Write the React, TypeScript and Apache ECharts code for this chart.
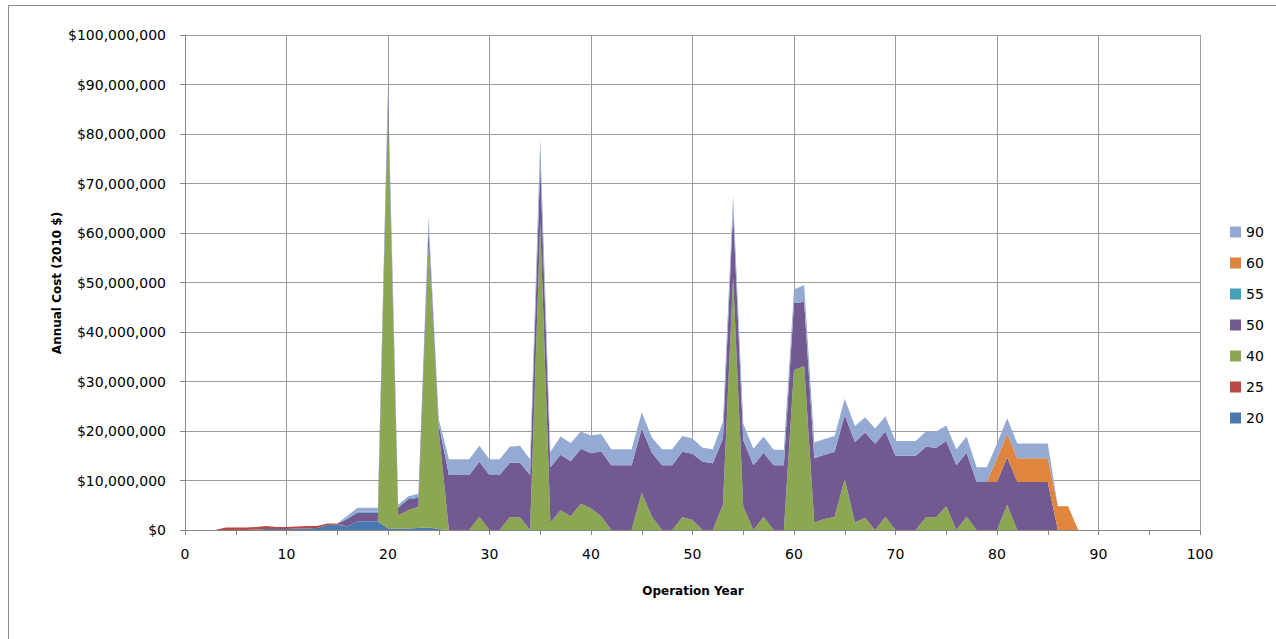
import React, { useEffect, useRef } from "react";
import * as echarts from "echarts";

// Operation years 0..100 (category axis)
const YEARS: string[] = Array.from({ length: 101 }, (_, i) => String(i));

// Annual cost per series, in millions of 2010 dollars, year 0..100
const S20 = [
  0, 0, 0, 0, 0, 0, 0, 0.1, 0.2, 0.2,
  0.2, 0.3, 0.3, 0.4, 1.0, 1.1, 0.7, 1.7, 1.7, 1.7,
  0.3, 0.3, 0.3, 0.4, 0.5, 0.2, 0, 0, 0, 0,
  0, 0, 0, 0, 0, 0, 0, 0, 0, 0,
  0, 0, 0, 0, 0, 0, 0, 0, 0, 0,
  0, 0, 0, 0, 0, 0, 0, 0, 0, 0,
  0, 0, 0, 0, 0, 0, 0, 0, 0, 0,
  0, 0, 0, 0, 0, 0, 0, 0, 0, 0,
  0, 0, 0, 0, 0, 0, 0, 0, 0, 0,
  0, 0, 0, 0, 0, 0, 0, 0, 0, 0,
  0,
];
const S25 = [
  0, 0, 0, 0, 0.5, 0.5, 0.5, 0.5, 0.6, 0.4,
  0.4, 0.4, 0.5, 0.4, 0.3, 0.2, 0, 0, 0, 0,
  0, 0, 0, 0, 0, 0, 0, 0, 0, 0,
  0, 0, 0, 0, 0, 0, 0, 0, 0, 0,
  0, 0, 0, 0, 0, 0, 0, 0, 0, 0,
  0, 0, 0, 0, 0, 0, 0, 0, 0, 0,
  0, 0, 0, 0, 0, 0, 0, 0, 0, 0,
  0, 0, 0, 0, 0, 0, 0, 0, 0, 0,
  0, 0, 0, 0, 0, 0, 0, 0, 0, 0,
  0, 0, 0, 0, 0, 0, 0, 0, 0, 0,
  0,
];
const S40 = [
  0, 0, 0, 0, 0, 0, 0, 0, 0, 0,
  0, 0, 0, 0, 0, 0, 0, 0, 0, 0,
  84, 2.7, 3.7, 4.3, 57, 19.8, 0, 0, 0, 2.7,
  0, 0, 2.6, 2.6, 0, 62, 1.5, 4.0, 2.8, 5.3,
  4.4, 2.8, 0, 0, 0, 7.5, 2.7, 0, 0, 2.6,
  2.0, 0, 0, 5.1, 51, 4.8, 0, 2.7, 0, 0,
  32.3, 33.1, 1.5, 2.2, 2.7, 10.3, 1.5, 2.5, 0, 2.7,
  0, 0, 0, 2.6, 2.6, 4.8, 0, 2.7, 0, 0,
  0, 5.1, 0, 0, 0, 0, 0, 0, 0, 0,
  0, 0, 0, 0, 0, 0, 0, 0, 0, 0,
  0,
];
const S50 = [
  0, 0, 0, 0, 0, 0, 0, 0, 0, 0,
  0, 0, 0, 0, 0, 0, 1.5, 1.8, 1.8, 1.8,
  3.0, 1.5, 2.2, 1.8, 3.0, 1.3, 11.1, 11.1, 11.1, 11.1,
  11.1, 11.1, 11.0, 11.0, 11.1, 12.0, 11.2, 11.2, 11.1, 11.1,
  11.1, 13.1, 13.1, 13.1, 13.1, 13.0, 12.9, 13.1, 13.1, 13.2,
  13.4, 13.8, 13.5, 13.4, 13.5, 13.4, 13.1, 12.9, 13.1, 13.1,
  13.5, 13.0, 13.0, 13.0, 13.1, 12.9, 16.3, 17.2, 17.4, 17.2,
  15.0, 15.0, 15.0, 14.2, 14.0, 13.2, 13.1, 12.9, 9.7, 9.7,
  9.7, 9.6, 9.7, 9.7, 9.7, 9.7, 0, 0, 0, 0,
  0, 0, 0, 0, 0, 0, 0, 0, 0, 0,
  0,
];
const S55 = [
  0, 0, 0, 0, 0, 0, 0, 0, 0, 0,
  0, 0, 0, 0, 0, 0, 0.2, 0.2, 0.2, 0.2,
  0.2, 0.2, 0.2, 0.2, 0.2, 0.1, 0, 0, 0, 0,
  0, 0, 0, 0, 0, 0, 0, 0, 0, 0,
  0, 0, 0, 0, 0, 0, 0, 0, 0, 0,
  0, 0, 0, 0, 0, 0, 0, 0, 0, 0,
  0, 0, 0, 0, 0, 0, 0, 0, 0, 0,
  0, 0, 0, 0, 0, 0, 0, 0, 0, 0,
  0, 0, 0, 0, 0, 0, 0, 0, 0, 0,
  0, 0, 0, 0, 0, 0, 0, 0, 0, 0,
  0,
];
const S60 = [
  0, 0, 0, 0, 0, 0, 0, 0, 0, 0,
  0, 0, 0, 0, 0, 0, 0, 0, 0, 0,
  0, 0, 0, 0, 0, 0, 0, 0, 0, 0,
  0, 0, 0, 0, 0, 0, 0, 0, 0, 0,
  0, 0, 0, 0, 0, 0, 0, 0, 0, 0,
  0, 0, 0, 0, 0, 0, 0, 0, 0, 0,
  0, 0, 0, 0, 0, 0, 0, 0, 0, 0,
  0, 0, 0, 0, 0, 0, 0, 0, 0, 0,
  4.7, 4.8, 4.8, 4.8, 4.8, 4.8, 4.8, 4.8, 0, 0,
  0, 0, 0, 0, 0, 0, 0, 0, 0, 0,
  0,
];
const S90 = [
  0, 0, 0, 0, 0, 0, 0, 0, 0, 0,
  0, 0, 0, 0, 0, 0, 0.5, 0.8, 0.8, 0.8,
  2.5, 0.4, 0.4, 0.6, 2.5, 1.0, 3.2, 3.2, 3.2, 3.2,
  3.2, 3.2, 3.2, 3.4, 3.2, 5.0, 3.1, 3.7, 3.7, 3.5,
  3.6, 3.5, 3.2, 3.2, 3.2, 3.3, 3.1, 3.2, 3.2, 3.2,
  3.1, 2.8, 2.8, 3.4, 3.0, 3.3, 3.3, 3.3, 3.1, 3.1,
  2.8, 3.4, 3.2, 3.2, 3.2, 3.3, 3.2, 3.1, 3.1, 3.1,
  3.0, 3.0, 3.0, 3.1, 3.3, 3.1, 3.2, 3.3, 3.0, 3.0,
  3.0, 3.1, 3.0, 3.0, 3.0, 3.0, 0, 0, 0, 0,
  0, 0, 0, 0, 0, 0, 0, 0, 0, 0,
  0,
];

// Stack order bottom -> top
const SERIES_NAMES = ["20", "25", "40", "50", "55", "60", "90"];
const SERIES_VALUES = [S20, S25, S40, S50, S55, S60, S90];
const SERIES_COLORS = ["#4A78B0", "#BA4844", "#8CA751", "#725A91", "#45A0B9", "#E0853D", "#95AAD2"];

const FONT = "DejaVu Sans";

export default function App() {
  const ref = useRef<HTMLDivElement>(null);

  useEffect(() => {
    if (!ref.current) return;
    const chart = echarts.init(ref.current, undefined, { renderer: "svg" });

    const series = SERIES_NAMES.map((name, i) => ({
      name,
      type: "line",
      stack: "total",
      data: SERIES_VALUES[i].map((v) => v * 1e6),
      symbol: "none",
      showSymbol: false,
      lineStyle: { width: 0, color: SERIES_COLORS[i] },
      itemStyle: { color: SERIES_COLORS[i] },
      areaStyle: { color: SERIES_COLORS[i], opacity: 1 },
      emphasis: { disabled: true },
    }));

    const axisGray = "#868686";
    const gridGray = "#9C9C9C";

    chart.setOption({
      animation: false,
      textStyle: { fontFamily: FONT },
      grid: { left: 185, right: 76, top: 35, bottom: 109, containLabel: false },
      legend: {
        orient: "vertical",
        left: 1230,
        top: 225,
        padding: 0,
        itemWidth: 11,
        itemHeight: 11,
        itemGap: 17,
        icon: "rect",
        selectedMode: false,
        data: [...SERIES_NAMES].reverse(),
        textStyle: { fontSize: 14, color: "#000", fontFamily: FONT },
      },
      xAxis: {
        type: "category",
        data: YEARS,
        boundaryGap: false,
        axisLine: { show: true, lineStyle: { color: axisGray, width: 1 } },
        axisTick: { show: true, interval: 4, length: 5, lineStyle: { color: axisGray } },
        axisLabel: { interval: 9, margin: 17, fontSize: 14, color: "#000", fontFamily: FONT },
        splitLine: { show: true, interval: 9, lineStyle: { color: gridGray, width: 1 } },
      },
      yAxis: {
        type: "value",
        min: 0,
        max: 1e8,
        interval: 1e7,
        axisLine: { show: true, lineStyle: { color: axisGray, width: 1 } },
        axisTick: { show: true, length: 5, lineStyle: { color: axisGray } },
        axisLabel: {
          margin: 19,
          fontSize: 14,
          color: "#000",
          fontFamily: FONT,
          formatter: (v: number) => "$" + Math.round(v).toLocaleString("en-US"),
        },
        splitLine: { show: true, lineStyle: { color: gridGray, width: 1 } },
      },
      graphic: [
        {
          type: "rect",
          silent: true,
          z: -10,
          shape: { x: 8.5, y: 5.5, width: 1300, height: 700 },
          style: { fill: "none", stroke: "#8C8C8C", lineWidth: 1 },
        },
        {
          type: "text",
          x: 693,
          y: 591,
          style: {
            text: "Operation Year",
            fontSize: 12,
            fontWeight: "bold",
            fontFamily: FONT,
            fill: "#000",
            align: "center",
            verticalAlign: "middle",
          },
        },
        {
          type: "text",
          x: 57,
          y: 283,
          rotation: Math.PI / 2,
          style: {
            text: "Annual Cost (2010 $)",
            fontSize: 12,
            fontWeight: "bold",
            fontFamily: FONT,
            fill: "#000",
            align: "center",
            verticalAlign: "middle",
          },
        },
      ],
      series,
    });

    return () => {
      chart.dispose();
    };
  }, []);

  return (
    <div
      ref={ref}
      style={{ position: "absolute", left: 0, top: 0, width: 1276, height: 639, background: "#fff" }}
    />
  );
}
